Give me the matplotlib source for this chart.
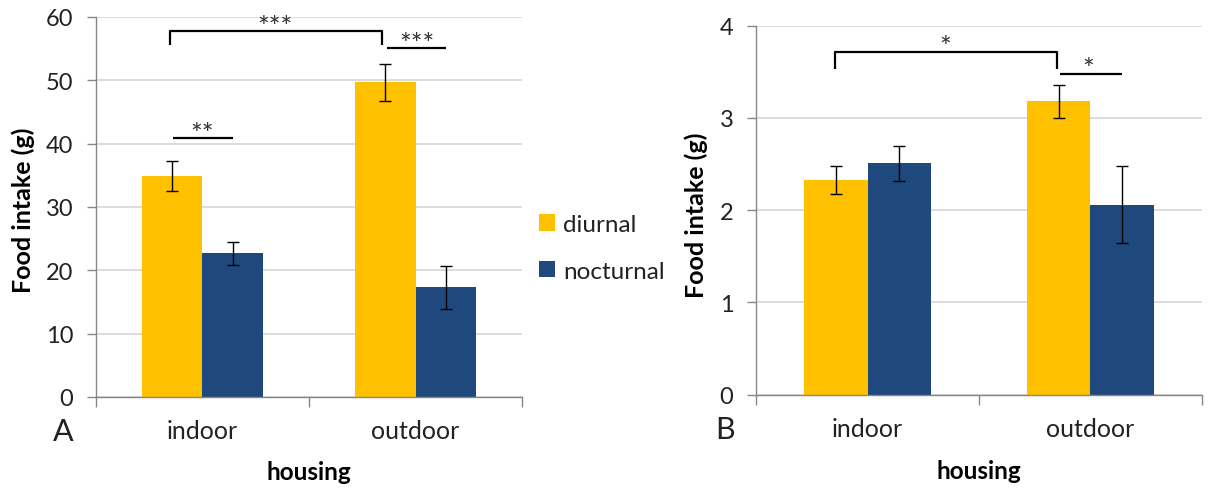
import matplotlib
matplotlib.use('Agg')
import matplotlib.pyplot as plt
from matplotlib.patches import Patch

plt.rcParams['font.family'] = ['Lato', 'DejaVu Sans']

# data
categories = ['indoor', 'outdoor']
series = ['diurnal', 'nocturnal']
colors = ['#FFC000', '#1F497D']

a_diurnal = [34.9, 49.7]
a_diurnal_err = [2.3, 2.9]
a_nocturnal = [22.7, 17.3]
a_nocturnal_err = [1.8, 3.4]

b_diurnal = [2.33, 3.18]
b_diurnal_err = [0.15, 0.18]
b_nocturnal = [2.51, 2.06]
b_nocturnal_err = [0.19, 0.42]

a_yticks = [0, 10, 20, 30, 40, 50, 60]
b_yticks = [0, 1, 2, 3, 4]

GRID = '#D9D9D9'
SPINE = '#868686'
BW = 0.285


def draw_panel(ax, diurnal, d_err, nocturnal, n_err, yticks):
    x = range(len(categories))
    xd = [i - BW / 2 for i in x]
    xn = [i + BW / 2 for i in x]
    ax.bar(xd, diurnal, width=BW, color=colors[0], zorder=2)
    ax.bar(xn, nocturnal, width=BW, color=colors[1], zorder=2)
    ax.errorbar(xd, diurnal, yerr=d_err, fmt='none', ecolor='black', elinewidth=1, capsize=4, capthick=1, zorder=3)
    ax.errorbar(xn, nocturnal, yerr=n_err, fmt='none', ecolor='black', elinewidth=1, capsize=4, capthick=1, zorder=3)

    ax.set_xlim(-0.5, 1.5)
    ax.set_ylim(yticks[0], yticks[-1])
    ax.set_yticks(yticks)
    ax.yaxis.grid(True, color=GRID, linewidth=1.3, zorder=0)
    ax.set_axisbelow(True)
    for s in ['top', 'right']:
        ax.spines[s].set_visible(False)
    for s in ['left', 'bottom']:
        ax.spines[s].set_color(SPINE)
        ax.spines[s].set_linewidth(1.0)
    ax.tick_params(axis='y', length=6.5, color=SPINE, width=1, pad=10, labelsize=17, labelcolor='#222222')

    ax.set_xticks([0, 1])
    ax.set_xticklabels(categories)
    ax.set_xticks([-0.5, 0.5, 1.5], minor=True)
    ax.tick_params(axis='x', which='major', length=0, pad=16, labelsize=18, labelcolor='#222222')
    ax.tick_params(axis='x', which='minor', length=7, color=SPINE, width=1)

    ax.set_ylabel('Food intake (g)', fontsize=18, fontweight='bold', va='center')
    ax.set_xlabel('housing', fontsize=17.5, fontweight='bold', va='center')


def bracket(ax, x0, x1, y, drop, lw=1.6):
    ax.plot([x0, x0, x1, x1], [y - drop, y, y, y - drop], color='black', lw=lw, solid_capstyle='butt', clip_on=False)


def hline(ax, x0, x1, y, lw=1.6):
    ax.plot([x0, x1], [y, y], color='black', lw=lw, solid_capstyle='butt', clip_on=False)


fig = plt.figure(figsize=(12.12, 4.89), dpi=100)
axA = fig.add_axes([0.0792, 0.1861, 0.3515, 0.7771])
axB = fig.add_axes([0.6240, 0.1908, 0.3675, 0.7546])

draw_panel(axA, a_diurnal, a_diurnal_err, a_nocturnal, a_nocturnal_err, a_yticks)
draw_panel(axB, b_diurnal, b_diurnal_err, b_nocturnal, b_nocturnal_err, b_yticks)

axA.yaxis.set_label_coords(-0.172, 0.495)
axA.xaxis.set_label_coords(0.5, -0.195)
axB.yaxis.set_label_coords(-0.135, 0.49)
axB.xaxis.set_label_coords(0.5, -0.206)

# significance marks, panel A
bracket(axA, -0.153, 0.843, 57.8, 2.2)
hline(axA, 0.866, 1.143, 55.1)
hline(axA, -0.139, 0.143, 40.9)
star_kw = dict(ha='center', va='center', fontsize=20, color='#333333')
axA.text(0.34, 58.3, '***', **star_kw)
axA.text(1.007, 55.5, '***', **star_kw)
axA.text(0.0, 41.4, '**', **star_kw)

# significance marks, panel B
bracket(axB, -0.148, 0.85, 3.72, 0.19)
hline(axB, 0.862, 1.144, 3.48)
axB.text(0.35, 3.76, '*', **star_kw)
axB.text(0.99, 3.52, '*', **star_kw)

# panel letters
fig.text(0.052, 0.117, 'A', ha='center', va='center', fontsize=22, color='#222222')
fig.text(0.598, 0.121, 'B', ha='center', va='center', fontsize=22, color='#222222')

handles = [Patch(facecolor=c, edgecolor='none') for c in colors]
fig.legend(handles, series, loc='center left', bbox_to_anchor=(0.4447, 0.491), frameon=False,
           fontsize=17.5, handlelength=0.65, handleheight=0.65, handletextpad=0.35, labelspacing=1.05,
           borderpad=0, borderaxespad=0, labelcolor='#222222')

fig.savefig('out.png', dpi=100)
